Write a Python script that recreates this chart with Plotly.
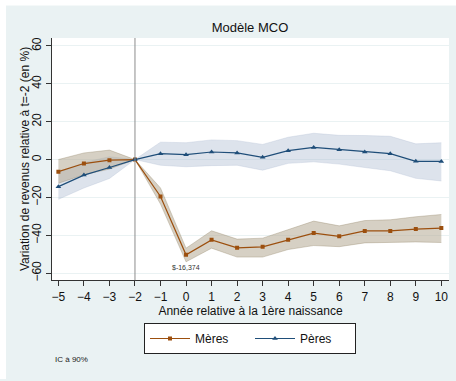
import plotly.graph_objects as go

years = [-5, -4, -3, -2, -1, 0, 1, 2, 3, 4, 5, 6, 7, 8, 9, 10]

meres = [-6.4, -2.1, -0.3, 0.0, -19.5, -50.3, -42.4, -46.6, -46.1, -42.4, -38.8, -40.5, -37.7, -37.7, -36.7, -36.2]
meres_lo = [-12.5, -8.0, -5.0, 0.0, -23.5, -54.0, -46.8, -51.5, -51.5, -47.5, -45.4, -46.0, -44.0, -43.8, -43.5, -43.8]
meres_hi = [0.0, 3.5, 5.0, 0.0, -15.0, -46.8, -37.6, -42.0, -41.5, -37.2, -32.5, -35.0, -32.2, -31.8, -30.2, -29.0]

peres = [-14.3, -8.2, -4.2, 0.0, 3.1, 2.6, 4.0, 3.5, 1.2, 4.7, 6.4, 5.2, 4.0, 3.1, -0.9, -1.0]
peres_lo = [-21.0, -15.0, -10.0, 0.0, -3.0, -3.8, -3.2, -3.0, -5.6, -2.0, -1.2, -2.4, -4.2, -5.9, -9.9, -11.3]
peres_hi = [-7.0, -1.5, 1.5, 0.0, 9.2, 8.9, 10.4, 10.0, 8.0, 11.8, 13.9, 12.8, 12.7, 12.3, 8.3, 8.9]

y_ticks = [-60, -40, -20, 0, 20, 40, 60]
x_ticks = years

annot_text = "$-16,374"
annot_x = 0
annot_y = -57

C_M = "#9c4f0e"
C_P = "#1f4e79"
F_M = "rgba(180,170,148,0.55)"
F_P = "rgba(170,185,207,0.40)"
BG = "#eaf2f3"

# plot area in pixels: x 52..449, y 38..283
PW, PH = 397.0, 245.0
def px(xp):
    return (xp - 52) / PW
def py(yp):
    return (283 - yp) / PH

fig = go.Figure()

fig.add_trace(go.Scatter(x=years, y=peres_lo, mode="lines", line=dict(width=0.5, color="rgba(170,185,207,0.6)"),
                         showlegend=False, hoverinfo="skip"))
fig.add_trace(go.Scatter(x=years, y=peres_hi, mode="lines", line=dict(width=0.5, color="rgba(170,185,207,0.6)"),
                         fill="tonexty", fillcolor=F_P, showlegend=False, hoverinfo="skip"))
fig.add_trace(go.Scatter(x=years, y=meres_lo, mode="lines", line=dict(width=0.6, color="rgba(140,125,95,0.55)"),
                         showlegend=False, hoverinfo="skip"))
fig.add_trace(go.Scatter(x=years, y=meres_hi, mode="lines", line=dict(width=0.6, color="rgba(140,125,95,0.55)"),
                         fill="tonexty", fillcolor=F_M, showlegend=False, hoverinfo="skip"))

fig.add_trace(go.Scatter(x=years, y=meres, mode="lines+markers", name="Mères",
                         line=dict(color=C_M, width=1.2), marker=dict(symbol="square", size=4, color=C_M)))
fig.add_trace(go.Scatter(x=years, y=peres, mode="lines+markers", name="Pères",
                         line=dict(color=C_P, width=1.2), marker=dict(symbol="triangle-up", size=5, color=C_P)))

fig.add_vline(x=-2, line=dict(color="#8c8c8c", width=1))

fig.add_annotation(x=annot_x, y=annot_y, text=annot_text, showarrow=False,
                   font=dict(size=7, color="#333333"))

fig.add_annotation(x=px(53), y=py(363), xref="paper", yref="paper", text="IC à 90%",
                   showarrow=False, xanchor="left", yanchor="middle", font=dict(size=8, color="#222"))

fig.add_annotation(x=px(25), y=0.5, xref="paper", yref="paper",
                   text="Variation de revenus relative à t=-2 (en %)", textangle=-90,
                   showarrow=False, xanchor="center", yanchor="middle", font=dict(size=12, color="#111"))

# white strips at the top and left edges of the picture
fig.add_shape(type="rect", xref="paper", yref="paper",
              x0=px(-2), x1=px(6), y0=py(383), y1=py(-2),
              fillcolor="white", line=dict(width=0), layer="above")
fig.add_shape(type="rect", xref="paper", yref="paper",
              x0=px(-2), x1=px(458), y0=py(5), y1=py(-2),
              fillcolor="white", line=dict(width=0), layer="above")

fig.update_layout(
    width=456, height=381,
    margin=dict(l=52, r=7, t=38, b=98),
    paper_bgcolor=BG,
    plot_bgcolor="white",
    font=dict(family="Liberation Sans, Arial, sans-serif", color="#111"),
    title=dict(text="Modèle MCO", x=250 / 456, xref="container", xanchor="center",
               y=1 - 27 / 381, yref="container", yanchor="middle", font=dict(size=13)),
    showlegend=True,
    legend=dict(orientation="h", x=250 / 456, xref="container", xanchor="center",
                y=1 - 338.5 / 381, yref="container", yanchor="middle", traceorder="normal",
                bgcolor="white", bordercolor="#222", borderwidth=1,
                font=dict(size=12), itemwidth=40, entrywidth=50),
    xaxis=dict(range=[-5.25, 10.3], tickvals=x_ticks, ticks="outside", ticklen=5, tickcolor="#333",
               showline=True, linecolor="#333", linewidth=1, showgrid=False, zeroline=False,
               tickfont=dict(size=12),
               title=dict(text="Année relative à la 1ère naissance", font=dict(size=12), standoff=4)),
    yaxis=dict(range=[-63.7, 64.2], tickvals=y_ticks, ticks="outside", ticklen=5, tickcolor="#333",
               showline=True, linecolor="#333", linewidth=1, showgrid=True, gridcolor=BG, gridwidth=1,
               zeroline=False, tickangle=-90, tickfont=dict(size=12)),
)

fig.write_html("out.html", config={"displayModeBar": False},
               post_script="document.body.style.margin='0';document.body.style.padding='0';")
